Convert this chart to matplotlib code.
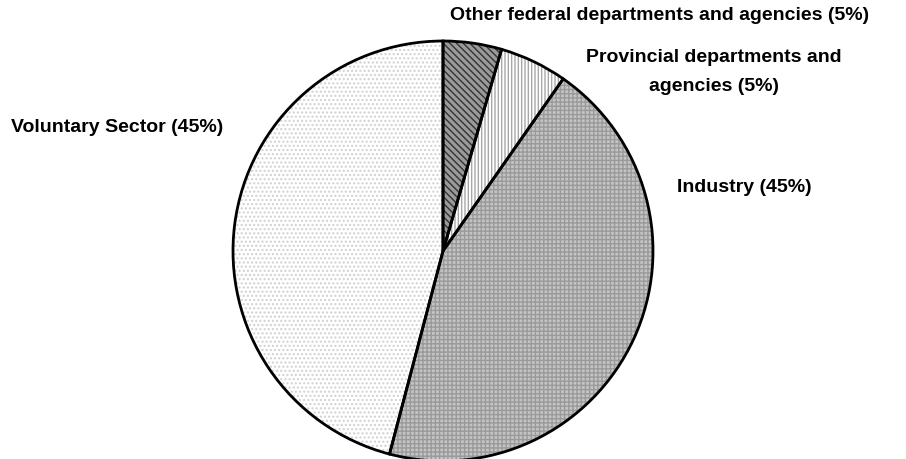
import matplotlib.pyplot as plt

# DATA ##########################################

labels = [
    'Other federal departments and agencies (5%)',
    'Provincial departments and\nagencies (5%)',
    'Industry (45%)',
    'Voluntary Sector (45%)',
]
shares = [4.5, 5.2, 44.4, 45.9]

# SETUP #########################################

plt.rcParams.update({
    'font.family': ['Liberation Sans', 'DejaVu Sans'],
    'font.size': 14,
    'font.weight': 'bold',
    'hatch.linewidth': 1.0,
})

fig = plt.figure(figsize=(9.06, 4.6), dpi=100)
ax = fig.add_axes([0, 0, 1, 1])
ax.set_aspect('equal')
ax.axis('off')

centre = (443, 208)
radius = 210

# PLOTTING ###################

face_colours = ['#9a9a9a', '#ffffff', '#c4c4c4', '#ffffff']
hatch_colours = ['#333333', '#a8a8a8', '#9a9a9a', '#d0d0d0']
hatches = ['\\\\\\\\\\', '|||||', '++++', '....']

wedges, _ = ax.pie(
    shares,
    startangle=90,
    counterclock=False,
    center=centre,
    radius=radius,
    wedgeprops=dict(linewidth=0),
)
for w, fc, hc, h in zip(wedges, face_colours, hatch_colours, hatches):
    w.set_facecolor(fc)
    w.set_edgecolor(hc)
    w.set_hatch(h)

# outlines on top
ax.pie(
    shares,
    startangle=90,
    counterclock=False,
    center=centre,
    radius=radius,
    wedgeprops=dict(fill=False, edgecolor='black', linewidth=2),
)
ax.set_xlim(0, 906)
ax.set_ylim(0, 460)

# LABELS ####################

ax.text(660, 445, labels[0], ha='center', va='center')
ax.text(714, 388, labels[1], ha='center', va='center', linespacing=1.95)
ax.text(744, 273, labels[2], ha='center', va='center')
ax.text(117, 332, labels[3], ha='center', va='center')

# EXPORT #########################################

plt.savefig('out.png', dpi=100)
